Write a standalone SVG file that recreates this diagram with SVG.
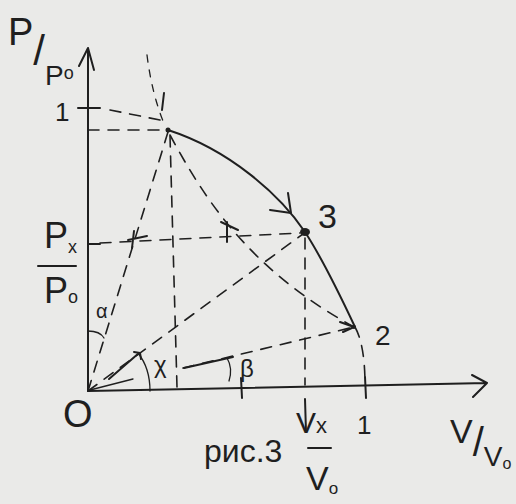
<svg xmlns="http://www.w3.org/2000/svg" width="516" height="504" viewBox="0 0 516 504">
<style>
.ink{stroke:#1f1f1f;fill:none;stroke-linecap:round;stroke-linejoin:round}
.solid{stroke-width:2}
.thin{stroke-width:1.3}
.dash{stroke-width:1.6;stroke-dasharray:11 9}
.dashf{stroke-width:1.3;stroke-dasharray:7 8}
text{font-family:"Liberation Sans","DejaVu Sans",sans-serif;fill:#1f1f1f}
</style>
<rect width="516" height="504" fill="#eaeae8"/>
<g id="axes">
<path class="ink solid" d="M88,391 L88,48 M79,66 L88,48 L94,70"/>
<path class="ink solid" d="M88,391 L487,383 M472,375 L487,383 L473,397"/>
<path class="ink solid" d="M78,108 L100,108 M88,244 L100,244 M241,378 L242,398 M365,377 L366,398"/>
<path class="ink thin" d="M88,331 Q100,331 104,338"/>
<path class="ink thin" d="M150,391 Q150,368 138,353"/>
<path class="ink thin" d="M227,358 Q233,368 229,381"/>
</g>
<g id="connectors">
<path class="ink dash" d="M88,130 L164,130"/>
<path class="ink dash" d="M110,110 L160,120"/>
<path class="ink dashf" d="M147,55 Q152,95 165,126"/>
<path class="ink solid" d="M164,93 L162,110"/>
<path class="ink dash" d="M88,391 L168,132"/>
<path class="ink dash" d="M170,136 L177,387"/>
<path class="ink dash" d="M170,135 C205,200 250,270 354,327"/>
<path class="ink dash" d="M100,243 L300,233"/>
<path class="ink dash" d="M305,238 L305,385"/>
<path class="ink solid" d="M305,399 L306,432"/>
<path class="ink dash" d="M88,391 L303,234"/>
<path class="ink solid" d="M109,379 L139,353 M134,352 L140,353 L141,359"/>
<path class="ink dash" d="M183,368 L354,327"/>
<path class="ink thin" d="M90,390 L133,379"/>
<path class="ink solid" d="M184,368 L233,357"/>
<path class="ink solid" d="M168,130 C230,150 280,195 305,232 C322,258 340,295 355,327"/>
<path class="ink dash" d="M355,327 Q365,345 365,385"/>
<path class="ink solid" d="M288,193 L291,213 L270,210"/>
<path class="ink solid" d="M227,222 L227,242 M221,222 L238,230"/>
<path class="ink solid" d="M128,240 L147,236 M134,231 L132,248"/>
<path class="ink solid" d="M340,322 L354,327 L343,332"/>
</g>
<g id="point1"><circle cx="168" cy="130" r="2.5" fill="#1f1f1f"/></g>
<g id="point3"><ellipse cx="305" cy="232" rx="5" ry="4" fill="#1f1f1f"/><text x="318" y="228" font-size="34">3</text></g>
<g id="point2"><circle cx="354" cy="327" r="2" fill="#1f1f1f"/><text x="375" y="345" font-size="28">2</text></g>
<g id="origin"><text x="63" y="427" font-size="38">O</text></g>
<g id="labels">
<text x="8" y="45" font-size="38">P<tspan dy="20" font-size="42">/</tspan><tspan dy="20" font-size="28">P</tspan><tspan dy="-6" font-size="18">o</tspan></text>
<text x="55" y="121" font-size="26">1</text>
<text x="44" y="248" font-size="36">P<tspan dy="5" font-size="18">x</tspan></text>
<path class="ink solid" d="M38,266 L76,266"/>
<text x="44" y="303" font-size="36">P<tspan font-size="18">o</tspan></text>
<text x="96" y="318" font-size="20">α</text>
<text x="154" y="373" font-size="24">χ</text>
<text x="240" y="377" font-size="24">β</text>
<text x="296" y="433" font-size="30">V<tspan font-size="22">x</tspan></text>
<path class="ink solid" d="M308,448 L331,448"/>
<text x="306" y="490" font-size="34">V<tspan dy="4" font-size="17">o</tspan></text>
<text x="357" y="434" font-size="26">1</text>
<text x="450" y="443" font-size="34">V<tspan dy="13" font-size="40">/</tspan><tspan dy="10" font-size="28">V</tspan><tspan dy="3" font-size="16">o</tspan></text>
<text x="204" y="462" font-size="32">рис.3</text>
</g>
</svg>
